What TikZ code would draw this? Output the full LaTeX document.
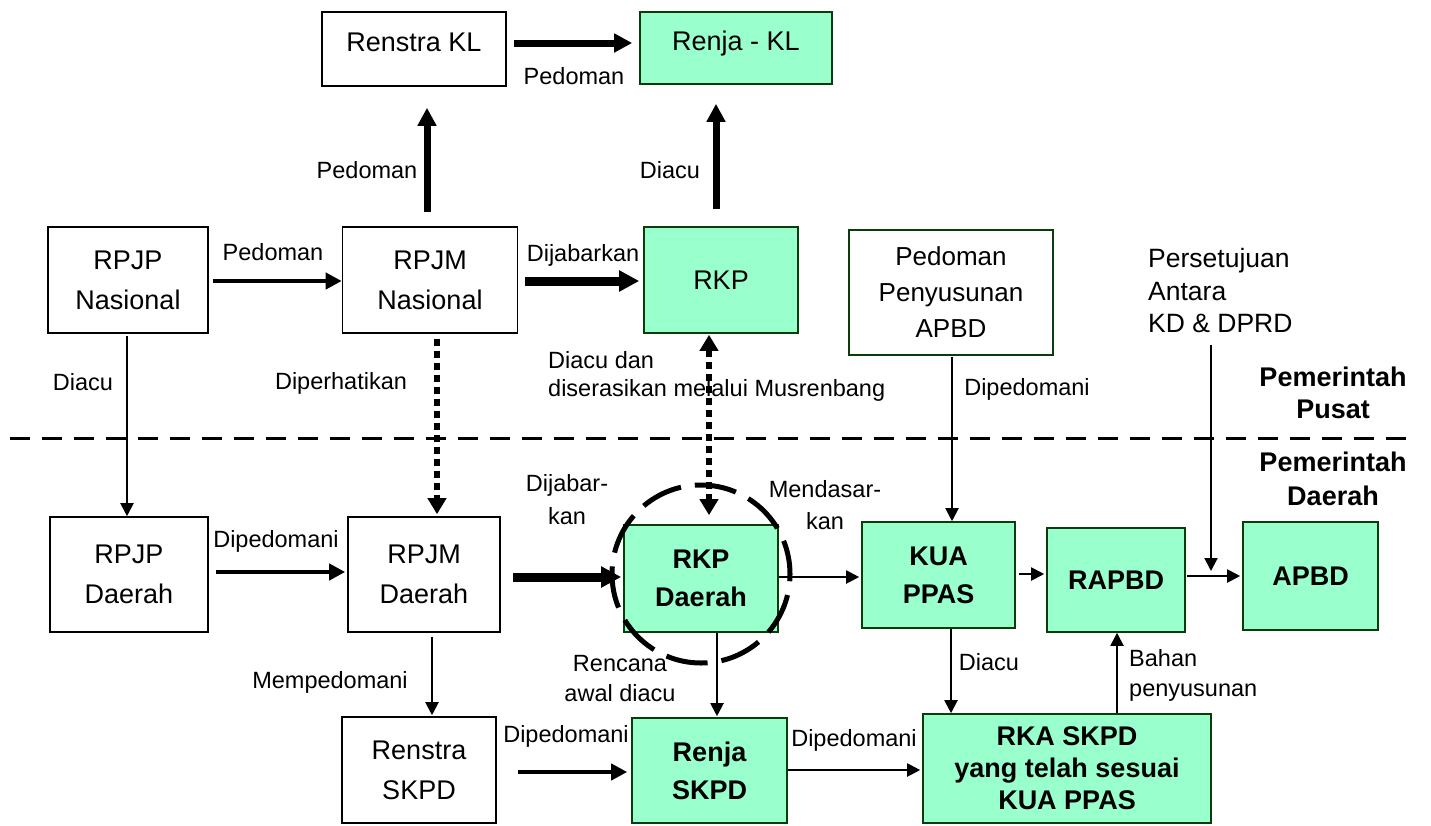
\documentclass[tikz,border=0pt]{standalone}
\usepackage{fontspec}
\setmainfont{Liberation Sans}
\usepackage{xcolor}
\usetikzlibrary{arrows.meta,calc,positioning,shapes}
\definecolor{boxgreen}{HTML}{99FFCC}
\definecolor{edgegreen}{HTML}{0B3D0B}
\tikzset{%
	docbox/.style   = {draw, rectangle, line width=1.6pt, inner sep=0pt, align=center, font=\fontsize{27}{40}\selectfont},
	planbox/.style  = {docbox, draw=edgegreen, fill=boxgreen},
	keybox/.style   = {planbox, font=\bfseries\fontsize{27}{38}\selectfont},
	lbl/.style      = {inner sep=0pt, align=center, font=\fontsize{23.5}{30}\selectfont},
	region/.style   = {inner sep=0pt, align=center, font=\bfseries\fontsize{27}{32}\selectfont},
	thin/.style     = {line width=2pt, -{Triangle[length=13pt,width=13pt]}},
	medium/.style   = {line width=4.5pt, -{Triangle[length=16pt,width=16pt]}},
	heavy/.style    = {line width=7pt, -{Triangle[length=18pt,width=18pt]}},
	heaviest/.style = {line width=9pt, -{Triangle[length=20pt,width=20pt]}},
	dotline/.style  = {line width=6pt, dash pattern=on 7pt off 5pt},
}
\begin{document}
\begin{tikzpicture}[x=1pt,y=-1pt]
	\useasboundingbox (0,0) rectangle (1431,825);
	
	% Pemerintah Pusat
	\node[docbox, minimum width=184pt, minimum height=74pt, text depth=14pt] (renstrakl) at (414,49) {Renstra KL};
	\node[planbox, minimum width=192pt, minimum height=72pt, text depth=14pt] (renjakl) at (736,48) {Renja - KL};
	\node[docbox, minimum width=160pt, minimum height=106pt] (rpjpnas) at (128,280) {RPJP\\Nasional};
	\node[docbox, minimum width=175pt, minimum height=106pt] (rpjmnas) at (430,280) {RPJM\\Nasional};
	\node[planbox, minimum width=154pt, minimum height=106pt] (rkp) at (721,280) {RKP};
	\node[docbox, draw=edgegreen, minimum width=204pt, minimum height=125pt, font=\fontsize{26}{36}\selectfont] (pedapbd) at (951,292.5) {Pedoman\\Penyusunan\\APBD};
	
	% Pemerintah Daerah
	\node[docbox, minimum width=158pt, minimum height=115pt] (rpjpdae) at (129,574.5) {RPJP\\Daerah};
	\node[docbox, minimum width=152pt, minimum height=115pt] (rpjmdae) at (424,574.5) {RPJM\\Daerah};
	\node[keybox, minimum width=154pt, minimum height=107pt] (rkpdae) at (701,578.5) {RKP\\Daerah};
	\node[keybox, minimum width=153pt, minimum height=106pt] (kua) at (938.5,575) {KUA\\PPAS};
	\node[keybox, minimum width=138pt, minimum height=104pt] (rapbd) at (1116,580) {RAPBD};
	\node[keybox, minimum width=135pt, minimum height=108pt] (apbd) at (1310.5,576) {APBD};
	\node[docbox, minimum width=154pt, minimum height=106pt] (renstraskpd) at (419,770) {Renstra\\SKPD};
	\node[keybox, minimum width=155pt, minimum height=105pt] (renjaskpd) at (709.5,770.5) {Renja\\SKPD};
	\node[keybox, minimum width=288pt, minimum height=109pt, font=\bfseries\fontsize{27}{32}\selectfont] (rkaskpd) at (1067,768.5) {RKA SKPD\\yang telah sesuai\\KUA PPAS};
	
	% labels
	\node[lbl] (lbpeda) at (574,76) {Pedoman};
	\node[lbl] (lbpedb) at (367,170) {Pedoman};
	\node[lbl] (lbdiacua) at (670,170) {Diacu};
	\node[lbl] (lbpedc) at (273,252) {Pedoman};
	\node[lbl] (lbjabara) at (583,255) {Dijabarkan};
	\node[lbl] (lbdiacub) at (83,382) {Diacu};
	\node[lbl] (lbperhati) at (341,383) {Diperhatikan};
	\node[lbl, align=left, anchor=west, font=\fontsize{23.5}{28}\selectfont] (lbmusren) at (548,376) {Diacu dan\\diserasikan melalui Musrenbang};
	\node[lbl] (lbdipeda) at (1027,389) {Dipedomani};
	\node[lbl, align=left, anchor=west, font=\fontsize{26.5}{32.5}\selectfont] (agreetext) at (1148,291) {Persetujuan\\Antara\\KD \& DPRD};
	\node[region] (pusat) at (1333,393) {Pemerintah\\Pusat};
	\node[region, font=\bfseries\fontsize{27}{34}\selectfont] (daerah) at (1333,479) {Pemerintah\\Daerah};
	\node[lbl] (lbdipedb) at (276,541) {Dipedomani};
	\node[lbl, font=\fontsize{23.5}{33}\selectfont] (lbjabarb) at (567,500) {Dijabar-\\kan};
	\node[lbl, font=\fontsize{23.5}{32}\selectfont] (lbdasar) at (825,505) {Mendasar-\\kan};
	\node[lbl] (lbmempedo) at (330,682) {Mempedomani};
	\node[lbl] (lbrencana) at (620,679) {Rencana\\awal diacu};
	\node[lbl] (lbdipedc) at (566,736) {Dipedomani};
	\node[lbl] (lbdipedd) at (854,740) {Dipedomani};
	\node[lbl] (lbdiacuc) at (989,662) {Diacu};
	\node[lbl, align=left, anchor=west] (lbbahan) at (1129,675) {Bahan\\penyusunan};
	
	\coordinate (divleft) at (10,438);
	\coordinate (divright) at (1410,438);
	\coordinate (agreetop) at (1211,345);
	\coordinate (agreetip) at (1211,571);
	\draw[line width=3pt, dash pattern=on 20pt off 12pt] (divleft) -- (divright);  % batas pusat/daerah
	
	% connectors
	\draw[heavy] ($(renstrakl.east)+(7,-6)$) -- ($(renjakl.west)+(-7,-5)$);
	\draw[heavy] ($(rpjmnas.north)+(-3,-14)$) -- ($(renstrakl.south)+(13,21)$);
	\draw[heavy] ($(rkp.north)+(-5,-17)$) -- ($(renjakl.south)+(-20,19)$);
	\draw[medium] ($(rpjpnas.east)+(4,1)$) -- ($(rpjmnas.west)+(0,1)$);
	\draw[heaviest] ($(rpjmnas.east)+(7,1)$) -- ($(rkp.west)+(-4,1)$);
	\draw[thin] ($(rpjpnas.south)+(-1,2)$) -- ($(rpjpdae.north)+(-2,0)$);
	\draw[dotline, -{Triangle[length=16pt,width=18pt]}] ($(rpjmnas.south)+(7,5)$) -- ($(rpjmdae.north)+(13,-2)$);
	\draw[dotline, {Triangle[length=16pt,width=18pt]}-{Triangle[length=16pt,width=18pt]}] ($(rkp.south)+(-12,1)$) -- ($(rkpdae.north)+(8,-9)$);
	\draw[thin] ($(pedapbd.south)+(1,1)$) -- ($(kua.north)+(13.5,0)$);
	\draw[thin] (agreetop) -- (agreetip);
	\draw[medium] ($(rpjpdae.east)+(7,-2.5)$) -- ($(rpjmdae.west)+(-2,-2.5)$);
	\draw[heaviest] ($(rpjmdae.east)+(12,2.5)$) -- ($(rkpdae.west)+(-2,-1.5)$);
	\draw[thin] ($(rkpdae.east)+(0,-1.5)$) -- ($(kua.west)+(-2,2)$);
	\draw[thin] ($(kua.east)+(3,-1)$) -- ($(rapbd.west)+(-2,-6)$);
	\draw[thin] ($(rapbd.east)+(1,-4)$) -- ($(apbd.west)+(-2,0)$);
	\draw[thin] ($(rpjmdae.south)+(8,4)$) -- ($(renstraskpd.north)+(13,-1)$);
	\draw[thin] ($(rkpdae.south)+(16,0)$) -- ($(renjaskpd.north)+(7.5,-1)$);
	\draw[medium] ($(renstraskpd.east)+(21,2)$) -- ($(renjaskpd.west)+(-4,1.5)$);
	\draw[thin] ($(renjaskpd.east)+(0,-0.5)$) -- ($(rkaskpd.west)+(-2,1.5)$);
	\draw[thin] ($(kua.south)+(12.5,0)$) -- ($(rkaskpd.north)+(-116,0)$);
	\draw[thin] ($(rkaskpd.north)+(50,0)$) -- ($(rapbd.south)+(1,0)$);
	
	\node[draw, circle, line width=5pt, dash pattern=on 42pt off 14pt, dash phase=8pt, minimum size=178pt] (ring) at (701,574) {};
\end{tikzpicture}
\end{document}
